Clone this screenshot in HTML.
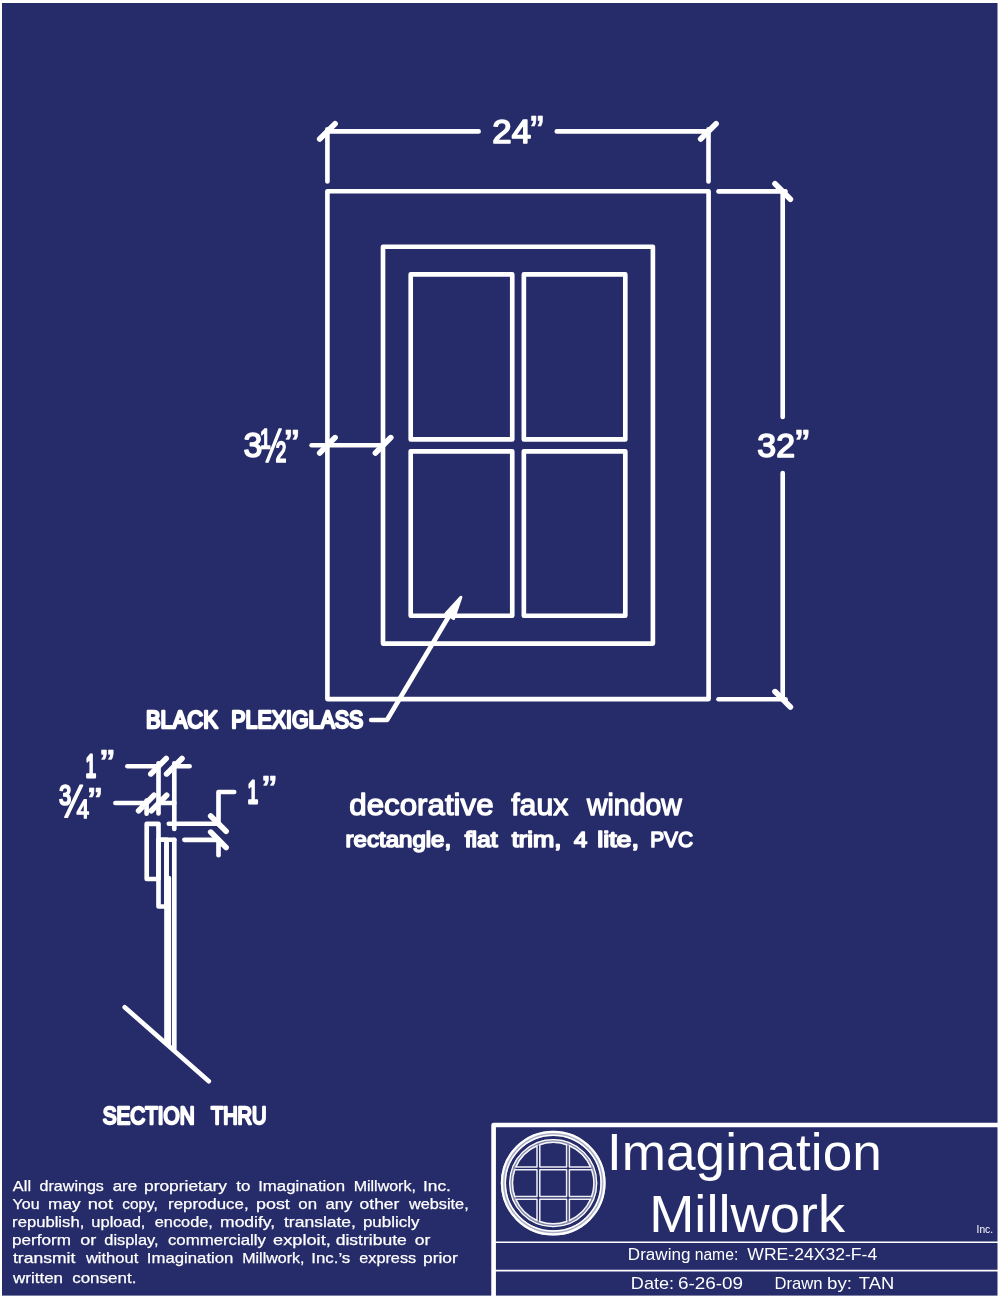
<!DOCTYPE html>
<html lang="en">
<head>
<meta charset="utf-8">
<title>Imagination Millwork - WRE-24X32-F-4</title>
<style>
html,body{margin:0;padding:0;background:#fff;}
body{width:1000px;height:1299px;overflow:hidden;}
svg{display:block;will-change:transform;}
.ln{fill:none;stroke:#fff;stroke-width:4.65;stroke-linecap:round;stroke-linejoin:round;}
.ln .fl{fill:#fff;}
.lg{fill:none;stroke:#fff;}
.disc text{stroke:#fff;stroke-width:0.25;}
text{font-family:"Liberation Sans",sans-serif;fill:#fff;}
text.b{font-weight:bold;}
text.r{font-weight:normal;}
</style>
</head>
<body>
<svg width="1000" height="1299" viewBox="0 0 1000 1299">
<rect x="0" y="0" width="1000" height="1299" fill="#fff"/>
<rect x="2" y="3" width="995.5" height="1292.6" fill="#262b69"/>
<g class="ln">
<rect x="327.4" y="191.25" width="381.2" height="507.85"/>
<rect x="383.0" y="246.7" width="269.9" height="396.9"/>
<rect x="410.7" y="274.4" width="101.55" height="165.0"/>
<rect x="410.7" y="451.3" width="101.55" height="164.45"/>
<rect x="523.85" y="274.4" width="101.45" height="165.0"/>
<rect x="523.85" y="451.3" width="101.45" height="164.45"/>
<line x1="327.4" y1="129.3" x2="327.4" y2="181.5"/>
<line x1="708.5" y1="129.3" x2="708.5" y2="181.5"/>
<line x1="327.4" y1="131.4" x2="478.6" y2="131.4"/>
<line x1="556.8" y1="131.4" x2="708.5" y2="131.4"/>
<line x1="319.7" y1="139.1" x2="335.1" y2="123.7" stroke-width="5.6"/>
<line x1="700.7" y1="139.1" x2="716.1" y2="123.7" stroke-width="5.6"/>
<line x1="718.5" y1="191.4" x2="785.5" y2="191.4"/>
<line x1="718.5" y1="699.2" x2="785.5" y2="699.2"/>
<line x1="782.7" y1="191.4" x2="782.7" y2="417"/>
<line x1="782.7" y1="473" x2="782.7" y2="699.2"/>
<line x1="775.0" y1="183.8" x2="790.4" y2="199.2" stroke-width="5.6"/>
<line x1="775.0" y1="691.6" x2="790.4" y2="707.0" stroke-width="5.6"/>
<line x1="311.6" y1="445.2" x2="383.0" y2="445.2"/>
<line x1="319.7" y1="453.0" x2="335.1" y2="437.6" stroke-width="5.6"/>
<line x1="375.4" y1="453.0" x2="390.8" y2="437.6" stroke-width="5.6"/>
<polyline points="371.2,720 387,720 452,611"/>
<polygon class="fl" points="460.9,597.2 446.0,613.4 453.6,618.6" stroke-width="3"/>
<line x1="127.4" y1="766.2" x2="158.5" y2="766.2"/>
<line x1="174.3" y1="766.2" x2="189.6" y2="766.2"/>
<line x1="150.8" y1="773.9" x2="166.2" y2="758.5" stroke-width="5.6"/>
<line x1="166.6" y1="773.9" x2="182.0" y2="758.5" stroke-width="5.6"/>
<line x1="158.5" y1="763.2" x2="158.5" y2="813.5"/>
<line x1="174.3" y1="763.2" x2="174.3" y2="829"/>
<line x1="115.4" y1="803" x2="146.5" y2="803"/>
<line x1="159" y1="803" x2="174.3" y2="803"/>
<line x1="138.6" y1="810.7" x2="154.0" y2="795.3" stroke-width="5.6"/>
<line x1="151.3" y1="810.7" x2="166.7" y2="795.3" stroke-width="5.6"/>
<line x1="146.6" y1="800.5" x2="146.6" y2="813.7"/>
<rect x="146.7" y="823.8" width="11.8" height="55.2"/>
<rect x="158.5" y="839.7" width="8.0" height="66.8"/>
<line x1="158.5" y1="839.7" x2="174.3" y2="839.7"/>
<line x1="166.5" y1="839.7" x2="166.5" y2="1042"/>
<line x1="168.8" y1="878" x2="168.8" y2="1044"/>
<line x1="174.3" y1="839.7" x2="174.3" y2="1049"/>
<line x1="124.7" y1="1007.2" x2="208.8" y2="1081.3"/>
<line x1="168.8" y1="823.7" x2="218.5" y2="823.7"/>
<line x1="184.4" y1="839.8" x2="218.5" y2="839.8"/>
<polyline points="234.2,792 218.5,792 218.5,823.7"/>
<line x1="218.5" y1="839.8" x2="218.5" y2="855.2"/>
<line x1="210.7" y1="815.9" x2="226.1" y2="831.3" stroke-width="5.6"/>
<line x1="210.7" y1="832.1" x2="226.1" y2="847.5" stroke-width="5.6"/>
<polyline points="998,1125 493.6,1125 493.6,1297" stroke-linejoin="round"/>
<line x1="494" y1="1242.3" x2="998" y2="1242.3" stroke-width="1.6"/>
<line x1="494" y1="1270.6" x2="998" y2="1270.6" stroke-width="1.6"/>
</g>
<g class="lg" transform="translate(553.2 1183.1)">
<circle r="49.8" stroke-width="5.2" stroke="#fff" stroke-opacity="0.62"/>
<circle r="51.3" stroke-width="2.2"/>
<circle r="47.9" stroke-width="1.5"/>
<circle r="42.1" stroke-width="3.9" stroke-opacity="0.45"/>
<circle r="43.5" stroke-width="1.3"/>
<g stroke-width="1.5" stroke-linejoin="round" stroke-opacity="0.92">
<path d="M-13.4 -13.4H13.4V13.4H-13.4Z"/>
<path transform="rotate(0)" d="M-13.4 -16.2H13.4V-38.43A40.7 40.7 0 0 0 -13.4 -38.43Z"/>
<path transform="rotate(90)" d="M-13.4 -16.2H13.4V-38.43A40.7 40.7 0 0 0 -13.4 -38.43Z"/>
<path transform="rotate(180)" d="M-13.4 -16.2H13.4V-38.43A40.7 40.7 0 0 0 -13.4 -38.43Z"/>
<path transform="rotate(270)" d="M-13.4 -16.2H13.4V-38.43A40.7 40.7 0 0 0 -13.4 -38.43Z"/>
<path transform="rotate(0)" d="M-16.2 -16.2V-37.34A40.7 40.7 0 0 0 -37.34 -16.2Z"/>
<path transform="rotate(90)" d="M-16.2 -16.2V-37.34A40.7 40.7 0 0 0 -37.34 -16.2Z"/>
<path transform="rotate(180)" d="M-16.2 -16.2V-37.34A40.7 40.7 0 0 0 -37.34 -16.2Z"/>
<path transform="rotate(270)" d="M-16.2 -16.2V-37.34A40.7 40.7 0 0 0 -37.34 -16.2Z"/>
</g>
</g>
<text class="r" x="492.31" y="143.0" font-size="33.17" textLength="38.73" lengthAdjust="spacingAndGlyphs" stroke="#fff" stroke-width="1.6" stroke-linejoin="round">24</text>
<text class="b" x="529.19" y="139.79" font-size="35.17" textLength="15.47" lengthAdjust="spacingAndGlyphs" stroke="#fff" stroke-width="0.6" stroke-linejoin="round">”</text>
<text class="r" x="757.33" y="456.8" font-size="33.17" textLength="37.69" lengthAdjust="spacingAndGlyphs" stroke="#fff" stroke-width="1.6" stroke-linejoin="round">32</text>
<text class="b" x="794.13" y="453.2" font-size="33.23" textLength="16.27" lengthAdjust="spacingAndGlyphs" stroke="#fff" stroke-width="0.6" stroke-linejoin="round">”</text>
<text class="r" x="243.48" y="457.0" font-size="35.06" textLength="18.82" lengthAdjust="spacingAndGlyphs" stroke="#fff" stroke-width="1.6" stroke-linejoin="round">3</text>
<text class="r" x="260.67" y="461.76" font-size="48.67" textLength="25.58" lengthAdjust="spacingAndGlyphs" stroke="#fff" stroke-width="1.7" stroke-linejoin="round">½</text>
<text class="b" x="283.62" y="453.2" font-size="33.2" textLength="16.78" lengthAdjust="spacingAndGlyphs" stroke="#fff" stroke-width="0.6" stroke-linejoin="round">”</text>
<text class="r" x="85.49" y="776.8" font-size="31.43" textLength="10.65" lengthAdjust="spacingAndGlyphs" stroke="#fff" stroke-width="2.8" stroke-linejoin="round">1</text>
<text class="b" x="99.13" y="773.4" font-size="33.23" textLength="16.27" lengthAdjust="spacingAndGlyphs" stroke="#fff" stroke-width="0.6" stroke-linejoin="round">”</text>
<text class="r" x="58.44" y="817.36" font-size="45.42" textLength="29.6" lengthAdjust="spacingAndGlyphs" stroke="#fff" stroke-width="1.7" stroke-linejoin="round">¾</text>
<text class="b" x="87.13" y="809.59" font-size="31.3" textLength="15.96" lengthAdjust="spacingAndGlyphs" stroke="#fff" stroke-width="0.6" stroke-linejoin="round">”</text>
<text class="r" x="247.49" y="802.8" font-size="31.43" textLength="10.65" lengthAdjust="spacingAndGlyphs" stroke="#fff" stroke-width="2.8" stroke-linejoin="round">1</text>
<text class="b" x="261.13" y="799.4" font-size="33.23" textLength="16.27" lengthAdjust="spacingAndGlyphs" stroke="#fff" stroke-width="0.6" stroke-linejoin="round">”</text>
<text class="r" x="145.96" y="728.2" font-size="24.0" textLength="71.84" lengthAdjust="spacingAndGlyphs" stroke="#fff" stroke-width="2.4" stroke-linejoin="round">BLACK</text>
<text class="r" x="231.29" y="728.2" font-size="24.0" textLength="132.08" lengthAdjust="spacingAndGlyphs" stroke="#fff" stroke-width="2.4" stroke-linejoin="round">PLEXIGLASS</text>
<text class="r" x="102.64" y="1124.0" font-size="23.96" textLength="91.99" lengthAdjust="spacingAndGlyphs" stroke="#fff" stroke-width="2.4" stroke-linejoin="round">SECTION</text>
<text class="r" x="210.9" y="1124.0" font-size="23.96" textLength="55.69" lengthAdjust="spacingAndGlyphs" stroke="#fff" stroke-width="2.4" stroke-linejoin="round">THRU</text>
<text class="r" x="349.28" y="815.15" font-size="29.51" textLength="144.31" lengthAdjust="spacingAndGlyphs" stroke="#fff" stroke-width="1.3" stroke-linejoin="round">decorative</text>
<text class="r" x="511.25" y="815.15" font-size="29.51" textLength="56.98" lengthAdjust="spacingAndGlyphs" stroke="#fff" stroke-width="1.3" stroke-linejoin="round">faux</text>
<text class="r" x="587.06" y="815.15" font-size="29.51" textLength="94.65" lengthAdjust="spacingAndGlyphs" stroke="#fff" stroke-width="1.3" stroke-linejoin="round">window</text>
<text class="r" x="345.64" y="846.9" font-size="22.02" textLength="105.52" lengthAdjust="spacingAndGlyphs" stroke="#fff" stroke-width="1.6" stroke-linejoin="round">rectangle,</text>
<text class="r" x="464.76" y="846.9" font-size="22.02" textLength="32.96" lengthAdjust="spacingAndGlyphs" stroke="#fff" stroke-width="1.6" stroke-linejoin="round">flat</text>
<text class="r" x="511.71" y="846.9" font-size="22.02" textLength="49.63" lengthAdjust="spacingAndGlyphs" stroke="#fff" stroke-width="1.6" stroke-linejoin="round">trim,</text>
<text class="r" x="573.94" y="846.9" font-size="22.02" textLength="13.22" lengthAdjust="spacingAndGlyphs" stroke="#fff" stroke-width="1.6" stroke-linejoin="round">4</text>
<text class="r" x="597.2" y="846.9" font-size="22.02" textLength="41.87" lengthAdjust="spacingAndGlyphs" stroke="#fff" stroke-width="1.6" stroke-linejoin="round">lite,</text>
<text class="r" x="650.16" y="846.9" font-size="22.02" textLength="42.89" lengthAdjust="spacingAndGlyphs" stroke="#fff" stroke-width="1.6" stroke-linejoin="round">PVC</text>
<g class="disc">
<text class="r" x="12.89" y="1190.7" font-size="15.0" textLength="18.14" lengthAdjust="spacingAndGlyphs">All</text>
<text class="r" x="39.57" y="1190.7" font-size="15.0" textLength="64.32" lengthAdjust="spacingAndGlyphs">drawings</text>
<text class="r" x="112.69" y="1190.7" font-size="15.0" textLength="24.52" lengthAdjust="spacingAndGlyphs">are</text>
<text class="r" x="144.02" y="1190.7" font-size="15.0" textLength="83.0" lengthAdjust="spacingAndGlyphs">proprietary</text>
<text class="r" x="236.31" y="1190.7" font-size="15.0" textLength="14.07" lengthAdjust="spacingAndGlyphs">to</text>
<text class="r" x="258.19" y="1190.7" font-size="15.0" textLength="86.85" lengthAdjust="spacingAndGlyphs">Imagination</text>
<text class="r" x="353.7" y="1190.7" font-size="15.0" textLength="62.2" lengthAdjust="spacingAndGlyphs">Millwork,</text>
<text class="r" x="422.99" y="1190.7" font-size="15.0" textLength="27.89" lengthAdjust="spacingAndGlyphs">Inc.</text>
</g>
<g class="disc">
<text class="r" x="12.59" y="1208.7" font-size="15.0" textLength="26.95" lengthAdjust="spacingAndGlyphs">You</text>
<text class="r" x="48.09" y="1208.7" font-size="15.0" textLength="32.44" lengthAdjust="spacingAndGlyphs">may</text>
<text class="r" x="87.67" y="1208.7" font-size="15.0" textLength="25.42" lengthAdjust="spacingAndGlyphs">not</text>
<text class="r" x="122.32" y="1208.7" font-size="15.0" textLength="35.47" lengthAdjust="spacingAndGlyphs">copy,</text>
<text class="r" x="168.05" y="1208.7" font-size="15.0" textLength="80.53" lengthAdjust="spacingAndGlyphs">reproduce,</text>
<text class="r" x="256.06" y="1208.7" font-size="15.0" textLength="33.8" lengthAdjust="spacingAndGlyphs">post</text>
<text class="r" x="298.37" y="1208.7" font-size="15.0" textLength="18.71" lengthAdjust="spacingAndGlyphs">on</text>
<text class="r" x="325.54" y="1208.7" font-size="15.0" textLength="26.83" lengthAdjust="spacingAndGlyphs">any</text>
<text class="r" x="359.62" y="1208.7" font-size="15.0" textLength="39.75" lengthAdjust="spacingAndGlyphs">other</text>
<text class="r" x="408.94" y="1208.7" font-size="15.0" textLength="59.74" lengthAdjust="spacingAndGlyphs">website,</text>
</g>
<g class="disc">
<text class="r" x="12.12" y="1226.7" font-size="15.0" textLength="72.16" lengthAdjust="spacingAndGlyphs">republish,</text>
<text class="r" x="91.32" y="1226.7" font-size="15.0" textLength="54.1" lengthAdjust="spacingAndGlyphs">upload,</text>
<text class="r" x="154.8" y="1226.7" font-size="15.0" textLength="58.0" lengthAdjust="spacingAndGlyphs">encode,</text>
<text class="r" x="220.06" y="1226.7" font-size="15.0" textLength="55.12" lengthAdjust="spacingAndGlyphs">modify,</text>
<text class="r" x="284.03" y="1226.7" font-size="15.0" textLength="71.93" lengthAdjust="spacingAndGlyphs">translate,</text>
<text class="r" x="362.95" y="1226.7" font-size="15.0" textLength="56.46" lengthAdjust="spacingAndGlyphs">publicly</text>
</g>
<g class="disc">
<text class="r" x="12.08" y="1244.6" font-size="15.0" textLength="58.92" lengthAdjust="spacingAndGlyphs">perform</text>
<text class="r" x="80.3" y="1244.6" font-size="15.0" textLength="16.11" lengthAdjust="spacingAndGlyphs">or</text>
<text class="r" x="104.3" y="1244.6" font-size="15.0" textLength="54.25" lengthAdjust="spacingAndGlyphs">display,</text>
<text class="r" x="167.9" y="1244.6" font-size="15.0" textLength="98.07" lengthAdjust="spacingAndGlyphs">commercially</text>
<text class="r" x="273.12" y="1244.6" font-size="15.0" textLength="57.68" lengthAdjust="spacingAndGlyphs">exploit,</text>
<text class="r" x="335.67" y="1244.6" font-size="15.0" textLength="71.14" lengthAdjust="spacingAndGlyphs">distribute</text>
<text class="r" x="414.83" y="1244.6" font-size="15.0" textLength="15.59" lengthAdjust="spacingAndGlyphs">or</text>
</g>
<g class="disc">
<text class="r" x="13.0" y="1262.6" font-size="15.0" textLength="62.26" lengthAdjust="spacingAndGlyphs">transmit</text>
<text class="r" x="85.92" y="1262.6" font-size="15.0" textLength="52.37" lengthAdjust="spacingAndGlyphs">without</text>
<text class="r" x="146.86" y="1262.6" font-size="15.0" textLength="86.51" lengthAdjust="spacingAndGlyphs">Imagination</text>
<text class="r" x="242.27" y="1262.6" font-size="15.0" textLength="62.14" lengthAdjust="spacingAndGlyphs">Millwork,</text>
<text class="r" x="311.26" y="1262.6" font-size="15.0" textLength="39.01" lengthAdjust="spacingAndGlyphs">Inc.’s</text>
<text class="r" x="359.26" y="1262.6" font-size="15.0" textLength="56.91" lengthAdjust="spacingAndGlyphs">express</text>
<text class="r" x="423.01" y="1262.6" font-size="15.0" textLength="34.74" lengthAdjust="spacingAndGlyphs">prior</text>
</g>
<g class="disc">
<text class="r" x="13.08" y="1283.3" font-size="15.0" textLength="49.91" lengthAdjust="spacingAndGlyphs">written</text>
<text class="r" x="72.17" y="1283.3" font-size="15.0" textLength="64.27" lengthAdjust="spacingAndGlyphs">consent.</text>
</g>
<text class="r" x="607.07" y="1169.8" font-size="52" textLength="274.67" lengthAdjust="spacingAndGlyphs">Imagination</text>
<text class="r" x="649.2" y="1231.9" font-size="52" textLength="195.85" lengthAdjust="spacingAndGlyphs">Millwork</text>
<text class="r" x="976.57" y="1233.0" font-size="10.9" textLength="16.49" lengthAdjust="spacingAndGlyphs">Inc.</text>
<text class="r" x="627.85" y="1259.7" font-size="16.61" textLength="62.56" lengthAdjust="spacingAndGlyphs">Drawing</text>
<text class="r" x="694.68" y="1259.7" font-size="16.61" textLength="43.57" lengthAdjust="spacingAndGlyphs">name:</text>
<text class="r" x="747.34" y="1259.9" font-size="16.61" textLength="129.88" lengthAdjust="spacingAndGlyphs">WRE-24X32-F-4</text>
<text class="r" x="630.85" y="1289.3" font-size="16.54" textLength="43.15" lengthAdjust="spacingAndGlyphs">Date:</text>
<text class="r" x="677.93" y="1289.3" font-size="16.54" textLength="65.14" lengthAdjust="spacingAndGlyphs">6-26-09</text>
<text class="r" x="774.56" y="1289.3" font-size="16.54" textLength="48.04" lengthAdjust="spacingAndGlyphs">Drawn</text>
<text class="r" x="827.14" y="1289.3" font-size="16.54" textLength="24.93" lengthAdjust="spacingAndGlyphs">by:</text>
<text class="r" x="858.89" y="1289.3" font-size="16.54" textLength="35.33" lengthAdjust="spacingAndGlyphs">TAN</text>
</svg>
</body>
</html>
